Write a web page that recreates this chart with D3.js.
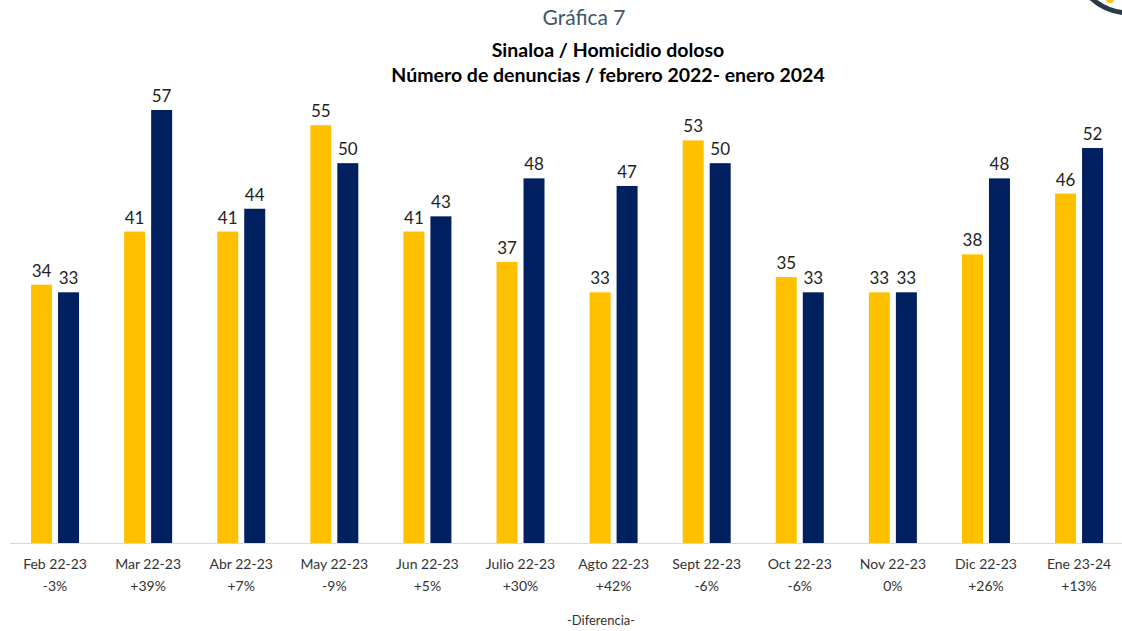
<!DOCTYPE html>
<html><head><meta charset="utf-8">
<script src="https://cdn.jsdelivr.net/npm/d3@7"></script>
<style>body{margin:0;background:#fff;overflow:hidden}svg{display:block}</style>
</head><body>
<script>
const categories = ["Feb 22-23","Mar 22-23","Abr 22-23","May 22-23","Jun 22-23","Julio 22-23","Agto 22-23","Sept 22-23","Oct 22-23","Nov 22-23","Dic 22-23","Ene 23-24"];
const series = ["prev","curr"];
const valuesPrev = [34,41,41,55,41,37,33,53,35,33,38,46];
const valuesCurr = [33,57,44,50,43,48,47,50,33,33,48,52];
const diffLabels = ["-3%","+39%","+7%","-9%","+5%","+30%","+42%","-6%","-6%","0%","+26%","+13%"];
const colors = {prev:"#FFC000", curr:"#002060"};

const W=1122,H=631;
const svg=d3.select("body").append("svg").attr("width",W).attr("height",H);
const font="Lato, 'Open Sans', sans-serif";

// logo fragment
svg.append("circle").attr("cx",1130).attr("cy",-45).attr("r",58).attr("fill","none").attr("stroke","#2b3a4a").attr("stroke-width",5);
svg.append("circle").attr("cx",1110).attr("cy",-1).attr("r",4).attr("fill","#FFC000");

svg.append("text").attr("x",584).attr("y",25).attr("text-anchor","middle").attr("font-family",font).attr("font-weight",400).attr("font-size",21).attr("fill","#44546A").text("Gráfica 7");
svg.append("text").attr("x",608).attr("y",57).attr("text-anchor","middle").attr("font-family",font).attr("font-weight","bold").attr("font-size",19.5).attr("fill","#000").text("Sinaloa / Homicidio doloso");
svg.append("text").attr("x",608).attr("y",82).attr("text-anchor","middle").attr("font-family",font).attr("font-weight","bold").attr("font-size",19.5).attr("fill","#000").text("Número de denuncias / febrero 2022- enero 2024");

const x0=d3.scaleBand().domain(categories).range([8.5,1125.6]).padding(0);
const x1=d3.scaleBand().domain(series).range([0,48]).paddingInner(6/27).paddingOuter(0);
const y=d3.scaleLinear().domain([0,57]).range([543,110]);

const data=categories.map((c,i)=>({c,i,vals:[{k:"prev",v:valuesPrev[i]},{k:"curr",v:valuesCurr[i]}]}));
const g=svg.append("g").selectAll("g").data(data).join("g")
  .attr("transform",d=>`translate(${x0(d.c)+x0.bandwidth()/2-24},0)`);
g.selectAll("rect").data(d=>d.vals).join("rect")
  .attr("x",d=>x1(d.k)).attr("width",x1.bandwidth())
  .attr("y",d=>y(d.v)).attr("height",d=>y(0)-y(d.v))
  .attr("fill",d=>colors[d.k]);
g.selectAll("text.v").data(d=>d.vals).join("text").attr("class","v")
  .attr("x",d=>x1(d.k)+x1.bandwidth()/2).attr("y",d=>y(d.v)-8)
  .attr("text-anchor","middle").attr("font-family",font).attr("font-size",17).attr("fill","#222").text(d=>d.v);

svg.append("line").attr("x1",10).attr("x2",1122).attr("y1",543.5).attr("y2",543.5).attr("stroke","#d9d9d9").attr("stroke-width",1);

const xa=svg.append("g").attr("transform","translate(0,543)").call(d3.axisBottom(x0).tickSize(0).tickPadding(0));
xa.select(".domain").remove();
xa.selectAll(".tick text").remove();
xa.selectAll(".tick").each(function(c,i){
  const t=d3.select(this);
  t.append("text").attr("y",26).attr("text-anchor","middle").attr("font-family",font).attr("font-size",14).attr("fill","#333").text(c);
  t.append("text").attr("y",48).attr("text-anchor","middle").attr("font-family",font).attr("font-size",14).attr("fill","#333").text(diffLabels[i]);
});
svg.append("text").attr("x",601).attr("y",625).attr("text-anchor","middle").attr("font-family",font).attr("font-size",13).attr("fill","#333").text("-Diferencia-");
</script>
</body></html>
